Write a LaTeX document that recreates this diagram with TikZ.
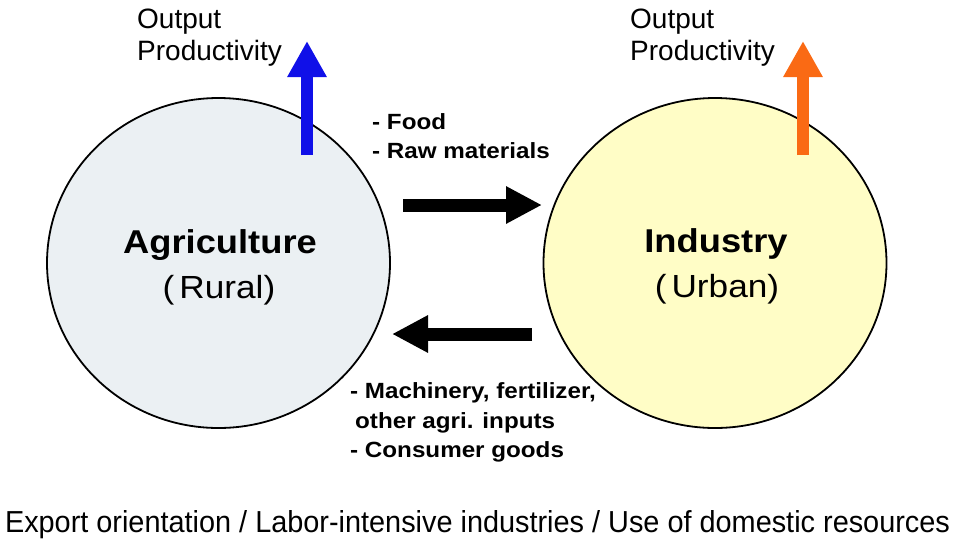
\documentclass[tikz,border=0pt]{standalone}
\usepackage{fontspec}
\setmainfont{Liberation Sans}
\newfontfamily\widefont[FakeStretch=1.1]{Liberation Sans}
\usetikzlibrary{arrows.meta,shapes.geometric}
\definecolor{agrifill}{HTML}{EBF0F3}
\definecolor{indfill}{HTML}{FFFDC6}
\definecolor{upblue}{HTML}{1010E8}
\definecolor{uporange}{HTML}{FA6A14}
\tikzset{
  sector/.style={ellipse, draw=black, line width=1.8pt, inner sep=0pt, minimum width=343pt, minimum height=330pt},
  title/.style={anchor=base, inner sep=0pt, font=\widefont\fontsize{33}{33}\selectfont\bfseries},
  sub/.style={anchor=base, inner sep=0pt, font=\widefont\fontsize{32}{32}\selectfont},
  outlbl/.style={anchor=base west, inner sep=0pt, font=\fontsize{28}{28}\selectfont},
  flowlbl/.style={anchor=base west, inner sep=0pt, font=\widefont\fontsize{22}{22}\selectfont\bfseries},
  uparrow/.style={line width=12.5pt, -{Triangle[length=36pt 0 0,width=37pt 0 0]}},
  flowarrow/.style={line width=13pt, -{Triangle[length=36pt 0 0,width=35pt 0 0]}},
}
\begin{document}
\begin{tikzpicture}[x=1pt,y=-1pt]
\useasboundingbox (0,0) rectangle (956,539);
% circles
\node[sector, fill=agrifill] (agri) at (218.5,263) {};
\node[sector, fill=indfill] (ind) at (715,263) {};
% labels in circles
\node[title] (agriT) at (220,253) {Agriculture};
\node[sub] (agriS) at (219,298) {(\kern5pt Rural)};
\node[title] (indT) at (716,252) {Industry};
\node[sub] (indS) at (717,297) {(\kern5pt Urban)};
% up arrows
\coordinate (bl0) at (307,155);
\coordinate (bl1) at (307,41);
\draw[uparrow, upblue] (bl0) -- (bl1);
\coordinate (or0) at (803,155);
\coordinate (or1) at (803,41);
\draw[uparrow, uporange] (or0) -- (or1);
% output labels
\node[outlbl] (o1a) at (137,28) {Output};
\node[outlbl] (o1b) at (137,60) {Productivity};
\node[outlbl] (o2a) at (630,28) {Output};
\node[outlbl] (o2b) at (630,60) {Productivity};
% flow arrows
\coordinate (fa0) at (403,205);
\coordinate (fa1) at (542,205);
\draw[flowarrow] (fa0) -- (fa1);
\coordinate (ba0) at (532,334);
\coordinate (ba1) at (392,334);
\draw[flowarrow] (ba0) -- (ba1);
% flow labels
\node[flowlbl] (food) at (372,129) {- Food};
\node[flowlbl] (raw) at (372,158) {- Raw materials};
\node[flowlbl] (mach) at (350,398) {- Machinery, fertilizer,};
\node[flowlbl] (oth) at (355,428) {other agri. inputs};
\node[flowlbl] (cons) at (350,457) {- Consumer goods};
% bottom line
\node[anchor=base, inner sep=0pt] (bottom) at (477.5,532.5) {\resizebox{945pt}{22pt}{\fontsize{30}{30}\selectfont Export orientation / Labor-intensive industries / Use of domestic resources}};
\end{tikzpicture}
\end{document}
